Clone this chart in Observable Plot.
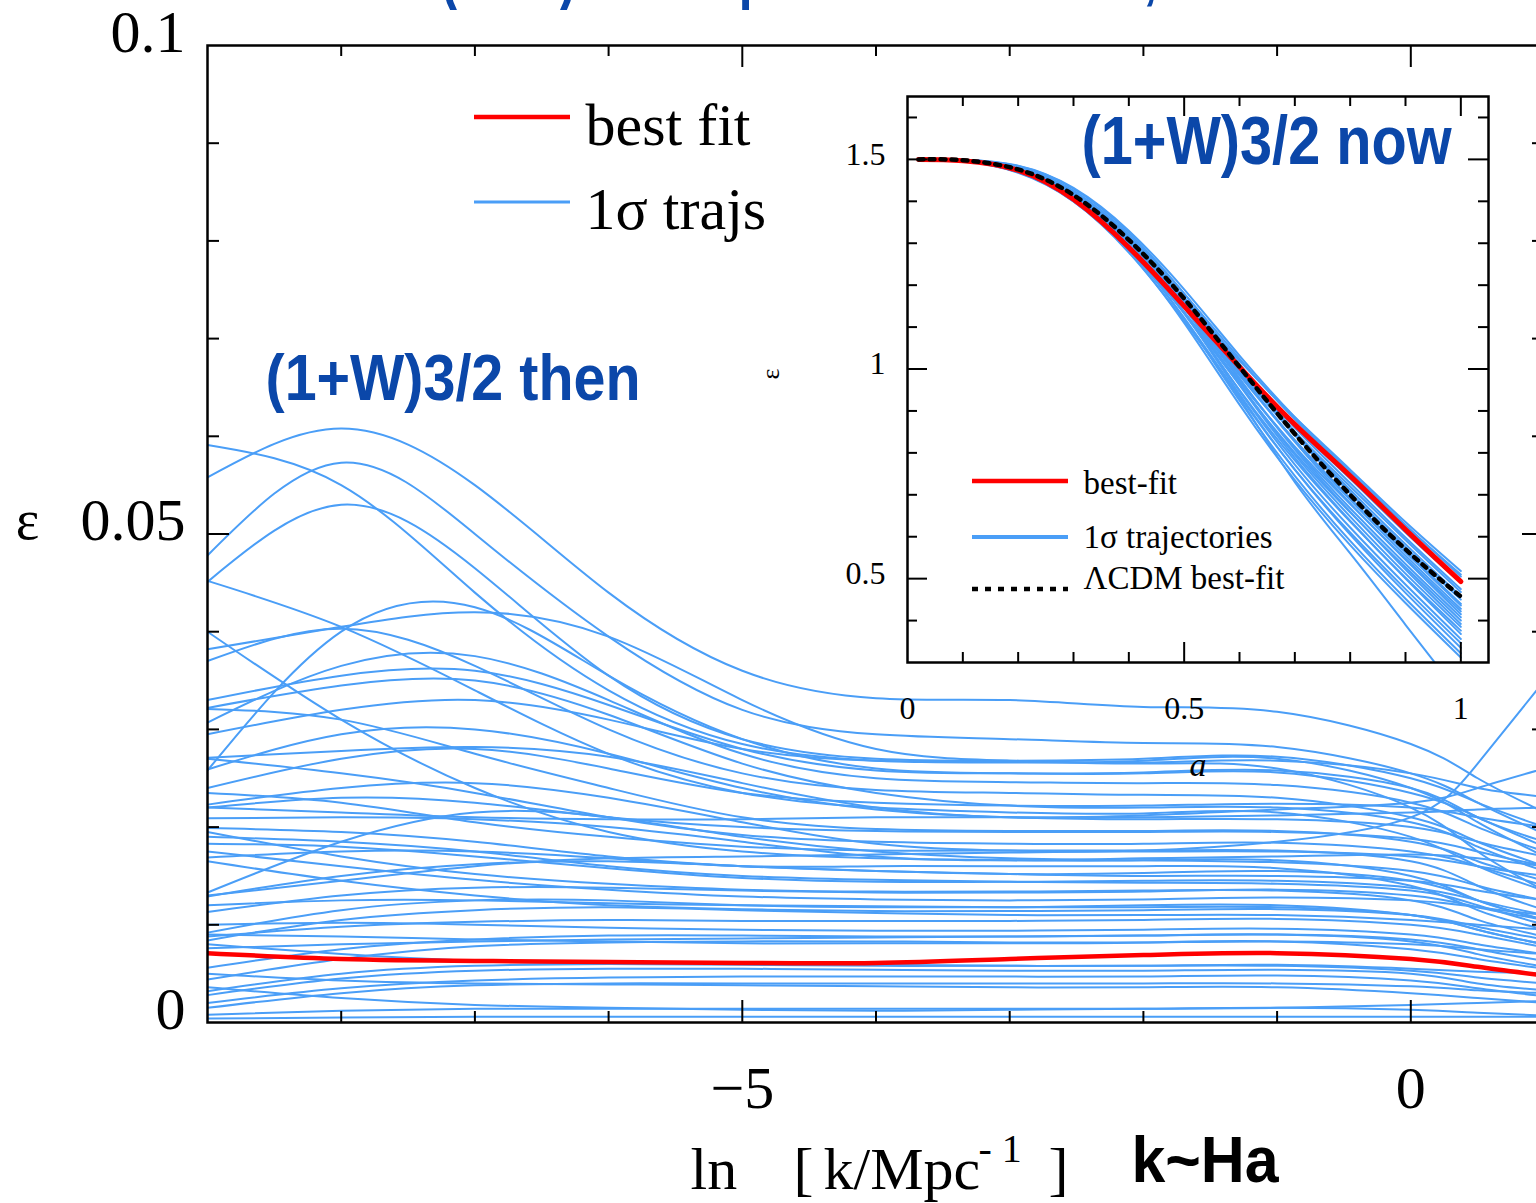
<!DOCTYPE html>
<html><head><meta charset="utf-8">
<script src="https://cdn.jsdelivr.net/npm/d3@7"></script>
<script src="https://cdn.jsdelivr.net/npm/@observablehq/plot@0.6"></script>
<style>
html,body{margin:0;padding:0;background:#fff;overflow:hidden;}
#wrap{position:relative;width:1536px;height:1203px;overflow:hidden;background:#fff;}
#wrap > svg{position:absolute;}
</style></head><body><div id="wrap"></div>
<script>
// ---------- main panel data: epsilon vs ln(k/Mpc^-1) ----------
const lnK = [-9,-8,-7,-6,-5,-4,-3,-2,-1,0,0.5,1];
const trajs = [
[0.0558,0.0608,0.0550,0.0440,0.0360,0.0332,0.0330,0.0323,0.0318,0.0285,0.0250,0.0215],
[0.0591,0.0550,0.0440,0.0340,0.0285,0.0268,0.0266,0.0268,0.0270,0.0240,0.0205,0.0170],
[0.0478,0.0573,0.0500,0.0395,0.0320,0.0295,0.0290,0.0286,0.0282,0.0255,0.0225,0.0193],
[0.0451,0.0530,0.0465,0.0355,0.0290,0.0270,0.0268,0.0270,0.0272,0.0250,0.0225,0.0200],
[0.0452,0.0405,0.0340,0.0275,0.0235,0.0220,0.0215,0.0214,0.0215,0.0190,0.0160,0.0135],
[0.0400,0.0310,0.0240,0.0195,0.0175,0.0168,0.0166,0.0166,0.0166,0.0150,0.0125,0.0105],
[0.0258,0.0400,0.0425,0.0355,0.0290,0.0260,0.0255,0.0255,0.0256,0.0235,0.0210,0.0180],
[0.0382,0.0405,0.0420,0.0395,0.0330,0.0280,0.0268,0.0266,0.0268,0.0255,0.0240,0.0231],
[0.0370,0.0403,0.0365,0.0300,0.0255,0.0238,0.0235,0.0233,0.0230,0.0210,0.0185,0.0160],
[0.0307,0.0365,0.0375,0.0330,0.0275,0.0250,0.0246,0.0245,0.0243,0.0225,0.0200,0.0175],
[0.0322,0.0345,0.0350,0.0315,0.0265,0.0235,0.0222,0.0220,0.0220,0.0205,0.0180,0.0155],
[0.0321,0.0310,0.0275,0.0240,0.0210,0.0198,0.0196,0.0196,0.0196,0.0185,0.0165,0.0145],
[0.0259,0.0295,0.0300,0.0275,0.0240,0.0218,0.0210,0.0208,0.0208,0.0200,0.0185,0.0170],
[0.0271,0.0278,0.0282,0.0272,0.0245,0.0220,0.0210,0.0210,0.0212,0.0215,0.0218,0.0220],
[0.0235,0.0225,0.0205,0.0190,0.0180,0.0176,0.0176,0.0176,0.0176,0.0165,0.0140,0.0115],
[0.0223,0.0240,0.0245,0.0230,0.0205,0.0183,0.0176,0.0175,0.0175,0.0170,0.0160,0.0150],
[0.0209,0.0210,0.0208,0.0200,0.0185,0.0170,0.0166,0.0168,0.0170,0.0172,0.0168,0.0160],
[0.0199,0.0195,0.0185,0.0170,0.0160,0.0155,0.0152,0.0153,0.0155,0.0145,0.0125,0.0105],
[0.0195,0.0170,0.0152,0.0142,0.0136,0.0134,0.0134,0.0135,0.0135,0.0125,0.0105,0.0088],
[0.0183,0.0180,0.0170,0.0158,0.0148,0.0144,0.0144,0.0145,0.0145,0.0138,0.0125,0.0110],
[0.0175,0.0160,0.0146,0.0136,0.0129,0.0126,0.0125,0.0126,0.0128,0.0125,0.0118,0.0110],
[0.0169,0.0175,0.0175,0.0168,0.0160,0.0160,0.0160,0.0160,0.0158,0.0140,0.0115,0.0095],
[0.0165,0.0145,0.0130,0.0120,0.0116,0.0114,0.0114,0.0115,0.0116,0.0110,0.0098,0.0085],
[0.0133,0.0185,0.0215,0.0210,0.0190,0.0175,0.0168,0.0166,0.0164,0.0155,0.0140,0.0125],
[0.0129,0.0150,0.0162,0.0165,0.0160,0.0155,0.0152,0.0150,0.0150,0.0145,0.0135,0.0125],
[0.0113,0.0130,0.0138,0.0138,0.0135,0.0133,0.0133,0.0134,0.0136,0.0130,0.0118,0.0105],
[0.0092,0.0115,0.0125,0.0125,0.0120,0.0118,0.0118,0.0120,0.0120,0.0110,0.0095,0.0080],
[0.0088,0.0098,0.0103,0.0105,0.0104,0.0104,0.0104,0.0105,0.0106,0.0100,0.0090,0.0077],
[0.0084,0.0105,0.0115,0.0118,0.0115,0.0112,0.0110,0.0110,0.0110,0.0105,0.0100,0.0095],
[0.0076,0.0080,0.0083,0.0085,0.0086,0.0087,0.0088,0.0089,0.0090,0.0085,0.0075,0.0063],
[0.0056,0.0075,0.0085,0.0089,0.0089,0.0088,0.0088,0.0089,0.0090,0.0083,0.0070,0.0057],
[0.0044,0.0065,0.0078,0.0082,0.0083,0.0083,0.0082,0.0082,0.0083,0.0080,0.0075,0.0070],
[0.0032,0.0050,0.0058,0.0060,0.0060,0.0059,0.0058,0.0058,0.0058,0.0053,0.0046,0.0040],
[0.0028,0.0045,0.0053,0.0055,0.0055,0.0054,0.0053,0.0053,0.0054,0.0050,0.0040,0.0033],
[0.0020,0.0035,0.0043,0.0046,0.0047,0.0047,0.0047,0.0047,0.0048,0.0043,0.0035,0.0027],
[0.0050,0.0043,0.0040,0.0039,0.0038,0.0037,0.0036,0.0036,0.0036,0.0030,0.0025,0.0020],
[0.0004,0.0005,0.0006,0.0006,0.0006,0.0006,0.0006,0.0006,0.0006,0.0006,0.0006,0.0006],
[0.0036,0.0025,0.0018,0.0015,0.0013,0.0012,0.0013,0.0014,0.0015,0.0013,0.0010,0.0007],
[0.0130,0.0145,0.0160,0.0168,0.0170,0.0172,0.0174,0.0176,0.0185,0.0210,0.0265,0.0350],
[0.0220,0.0215,0.0210,0.0208,0.0208,0.0210,0.0210,0.0212,0.0218,0.0225,0.0240,0.0260],
[0.0295,0.0320,0.0330,0.0310,0.0280,0.0268,0.0267,0.0265,0.0260,0.0220,0.0175,0.0135],
[0.0330,0.0355,0.0360,0.0325,0.0280,0.0258,0.0255,0.0256,0.0258,0.0240,0.0210,0.0185],
[0.0270,0.0255,0.0235,0.0210,0.0192,0.0185,0.0183,0.0183,0.0184,0.0175,0.0160,0.0140],
[0.0190,0.0185,0.0175,0.0160,0.0150,0.0146,0.0144,0.0143,0.0142,0.0135,0.0120,0.0100],
[0.0120,0.0125,0.0125,0.0122,0.0120,0.0119,0.0118,0.0118,0.0118,0.0110,0.0095,0.0080],
[0.0100,0.0102,0.0100,0.0097,0.0095,0.0094,0.0094,0.0095,0.0096,0.0090,0.0080,0.0070],
[0.0090,0.0088,0.0085,0.0083,0.0081,0.0081,0.0081,0.0082,0.0083,0.0075,0.0065,0.0055],
[0.0080,0.0070,0.0063,0.0060,0.0059,0.0058,0.0058,0.0058,0.0059,0.0055,0.0052,0.0050],
[0.0015,0.0030,0.0038,0.0040,0.0040,0.0040,0.0040,0.0040,0.0040,0.0037,0.0033,0.0030],
[0.0008,0.0012,0.0014,0.0014,0.0014,0.0014,0.0014,0.0014,0.0015,0.0018,0.0020,0.0022],
[0.0220,0.0230,0.0225,0.0210,0.0200,0.0196,0.0195,0.0195,0.0195,0.0188,0.0175,0.0160],
[0.0240,0.0270,0.0280,0.0260,0.0235,0.0225,0.0222,0.0222,0.0224,0.0220,0.0210,0.0200]
];
const bestFit = [0.0071,0.0065,0.0063,0.0062,0.0061,0.0061,0.0065,0.0069,0.0071,0.0065,0.0057,0.0048];

const yLabelValues = [0, 0.05, 0.1];
const yLabelTexts = ["0", "0.05", "0.1"];
const yMinorTicks = [0.01,0.02,0.03,0.04,0.06,0.07,0.08,0.09];
const yMajorTicks = [0.05];
const xLabelValues = [-5, 0];
const xLabelTexts = ["\u22125", "0"];
const xMinorTicks = [-8,-7,-6,-4,-3,-2,-1];
const xMajorTicks = [-5, 0];
const mainLegend = ["best fit", "1\u03c3 trajs"];

// ---------- inset data: epsilon vs a ----------
const aNodes = [0.02,0.1,0.2,0.3,0.4,0.5,0.6,0.7,0.8,0.9,1.0];
const insetTrajs = [
[1.500,1.498,1.478,1.418,1.310,1.170,1.020,0.885,0.760,0.635,0.518],
[1.500,1.499,1.482,1.425,1.320,1.180,1.025,0.880,0.752,0.627,0.510],
[1.500,1.497,1.475,1.412,1.300,1.160,1.008,0.865,0.738,0.610,0.490],
[1.500,1.498,1.479,1.420,1.312,1.168,1.010,0.860,0.728,0.598,0.475],
[1.500,1.496,1.470,1.405,1.292,1.150,0.995,0.850,0.720,0.592,0.468],
[1.500,1.498,1.480,1.422,1.315,1.170,1.005,0.850,0.712,0.582,0.458],
[1.500,1.497,1.474,1.410,1.300,1.155,0.995,0.842,0.705,0.575,0.450],
[1.500,1.499,1.484,1.430,1.325,1.180,1.012,0.850,0.705,0.568,0.440],
[1.500,1.497,1.472,1.406,1.295,1.148,0.985,0.830,0.692,0.562,0.436],
[1.500,1.498,1.478,1.418,1.308,1.160,0.990,0.830,0.688,0.555,0.428],
[1.500,1.496,1.468,1.400,1.285,1.135,0.970,0.815,0.678,0.548,0.422],
[1.500,1.498,1.481,1.425,1.318,1.168,0.992,0.826,0.680,0.545,0.415],
[1.500,1.497,1.475,1.412,1.300,1.148,0.975,0.812,0.668,0.535,0.408],
[1.500,1.496,1.470,1.402,1.288,1.135,0.962,0.800,0.658,0.527,0.400],
[1.500,1.498,1.480,1.422,1.312,1.158,0.978,0.808,0.660,0.522,0.392],
[1.500,1.497,1.476,1.414,1.302,1.145,0.965,0.795,0.648,0.512,0.385],
[1.500,1.496,1.471,1.405,1.290,1.132,0.950,0.782,0.636,0.502,0.376],
[1.500,1.498,1.479,1.420,1.308,1.148,0.962,0.788,0.638,0.500,0.368],
[1.500,1.497,1.474,1.410,1.295,1.135,0.948,0.772,0.622,0.486,0.356],
[1.500,1.496,1.470,1.402,1.285,1.122,0.935,0.760,0.610,0.475,0.346],
[1.500,1.498,1.477,1.415,1.300,1.135,0.940,0.760,0.605,0.466,0.335],
[1.500,1.497,1.473,1.406,1.288,1.120,0.925,0.745,0.590,0.452,0.322],
[1.500,1.496,1.469,1.400,1.280,1.110,0.915,0.735,0.580,0.442,0.312],
[1.500,1.497,1.472,1.400,1.278,1.115,0.930,0.730,0.560,0.390,0.220],
[1.500,1.499,1.485,1.432,1.330,1.190,1.032,0.885,0.755,0.628,0.505]
];
const insetBest = [1.500,1.497,1.474,1.405,1.290,1.150,1.005,0.868,0.745,0.617,0.493];
const insetLCDM = [1.500,1.498,1.476,1.415,1.308,1.168,1.005,0.845,0.700,0.570,0.457];
const insetXLabelValues = [0, 0.5, 1];
const insetXLabelTexts = ["0", "0.5", "1"];
const insetYLabelValues = [0.5, 1, 1.5];
const insetYLabelTexts = ["0.5", "1", "1.5"];
const insetXMinor = [0.1,0.2,0.3,0.4,0.6,0.7,0.8,0.9];
const insetXMajor = [0.5, 1.0];
const insetYMinor = [0.4,0.6,0.7,0.8,0.9,1.1,1.2,1.3,1.4,1.6];
const insetYMajor = [0.5, 1.0, 1.5];
const insetLegend = ["best-fit", "1\u03c3 trajectories", "\u039bCDM best-fit"];

// ---------- styling ----------
const BLUE = "#4a9ef7", RED = "#ff0000", NAVY = "#0b47a9";
const SERIF = "'Liberation Serif','Times New Roman',Times,serif";
const NARROW = "'Liberation Sans Narrow','Arial Narrow','Liberation Sans',Arial,sans-serif";
const SANS = "'Liberation Sans',Arial,Helvetica,sans-serif";

const W = 1536, H = 1203, ML = 207, MT = 45, MB = 181, MR = -8;
const FW = W - MR - ML, FH = H - MT - MB;

const mainRows = trajs.flatMap((s, i) => s.map((v, j) => ({x: lnK[j], y: v, id: i})));
const bestRows = bestFit.map((v, j) => ({x: lnK[j], y: v}));

const tk = {stroke: "black", strokeWidth: 2};
const axT = {frameAnchor: "bottom-left", textAnchor: "start", lineAnchor: "bottom", fill: "black"};
const main = Plot.plot({
  width: W, height: H, marginLeft: ML, marginTop: MT, marginBottom: MB, marginRight: MR,
  style: {fontFamily: SERIF, background: "white", overflow: "hidden"},
  x: {domain: [-9, 1], axis: null},
  y: {domain: [0, 0.1], axis: null},
  marks: [
    Plot.line(mainRows, {x: "x", y: "y", z: "id", stroke: BLUE, strokeWidth: 2, curve: "natural", clip: true}),
    Plot.line(bestRows, {x: "x", y: "y", stroke: RED, strokeWidth: 4.5, curve: "natural", clip: true}),
    Plot.frame({stroke: "black", strokeWidth: 2.5}),
    Plot.tickY(yMinorTicks, {...tk, insetRight: FW - 12}),
    Plot.tickY(yMinorTicks, {...tk, insetLeft: FW - 12}),
    Plot.tickY(yMajorTicks, {...tk, insetRight: FW - 22}),
    Plot.tickY(yMajorTicks, {...tk, insetLeft: FW - 22}),
    Plot.tickX(xMinorTicks, {...tk, insetTop: FH - 11}),
    Plot.tickX(xMinorTicks, {...tk, insetBottom: FH - 11}),
    Plot.tickX(xMajorTicks, {...tk, insetTop: FH - 22}),
    Plot.tickX(xMajorTicks, {...tk, insetBottom: FH - 22}),
    Plot.text(yLabelValues, {y: d => d, text: (d, i) => yLabelTexts[i], frameAnchor: "left", textAnchor: "end", dx: -22, dy: -13, fontSize: 60, fill: "black"}),
    Plot.text(["\u03b5"], {y: () => 0.05, frameAnchor: "left", textAnchor: "middle", dx: -180, dy: -13, fontSize: 56, fill: "black"}),
    Plot.text(xLabelValues, {x: d => d, text: (d, i) => xLabelTexts[i], frameAnchor: "bottom", lineAnchor: "middle", dy: 66, fontSize: 60, fill: "black"}),
    // x-axis title pieces
    Plot.text(["ln"], {...axT, dx: 690 - ML, dy: 166, fontSize: 60}),
    Plot.text(["["], {...axT, dx: 793 - ML, dy: 166, fontSize: 60}),
    Plot.text(["k/Mpc"], {...axT, dx: 823 - ML, dy: 166, fontSize: 60}),
    Plot.text(["- 1"], {...axT, dx: 978 - ML, dy: 139, fontSize: 40}),
    Plot.text(["]"], {...axT, dx: 1048 - ML, dy: 166, fontSize: 60}),
    Plot.text(["k~Ha"], {...axT, dx: 1131 - ML, dy: 159, fontSize: 64, fontWeight: "bold", fontFamily: SANS}),
    // blue annotations
    Plot.text(["(1+W)3/2 then"], {frameAnchor: "top-left", textAnchor: "start", lineAnchor: "bottom", dx: 265 - ML, dy: 399 - MT, fontSize: 64, fontWeight: "bold", fontFamily: NARROW, fill: NAVY}),
    Plot.text(["(1+W)3/2 = \u03b5 plot: then vs now, k~Ha"], {frameAnchor: "top-left", textAnchor: "start", lineAnchor: "bottom", dx: 440 - ML, dy: -5 - MT, fontSize: 68, fontWeight: "bold", fontFamily: NARROW, fill: NAVY}),
    // legend texts
    Plot.text([mainLegend[0]], {frameAnchor: "top-left", textAnchor: "start", lineAnchor: "bottom", dx: 585 - ML, dy: 144 - MT, fontSize: 60, fill: "black"}),
    Plot.text([mainLegend[1]], {frameAnchor: "top-left", textAnchor: "start", lineAnchor: "bottom", dx: 585 - ML, dy: 228 - MT, fontSize: 60, fill: "black"})
  ]
});

// legend swatches (main)
const ms = d3.select(main);
ms.append("line").attr("x1", 474).attr("x2", 570).attr("y1", 117).attr("y2", 117).attr("stroke", RED).attr("stroke-width", 4.5);
ms.append("line").attr("x1", 474).attr("x2", 570).attr("y1", 202).attr("y2", 202).attr("stroke", BLUE).attr("stroke-width", 3);

function fitText(svg, str, len) {
  d3.select(svg).selectAll("text").filter(function () { return this.textContent === str; })
    .attr("textLength", len).attr("lengthAdjust", "spacingAndGlyphs");
}
fitText(main, "(1+W)3/2 then", 375);
fitText(main, "k~Ha", 147);
fitText(main, "(1+W)3/2 = \u03b5 plot: then vs now, k~Ha", 850);

// ---------- inset ----------
const IML = 80, IMR = 20, IMT = 20, IMB = 130, IW = 681, IH = 716;
const IFW = IW - IML - IMR, IFH = IH - IMT - IMB;
const insetRows = insetTrajs.flatMap((s, i) => s.map((v, j) => ({a: aNodes[j], e: v, id: i})));
const insetBestRows = insetBest.map((v, j) => ({a: aNodes[j], e: v}));
const insetLRows = insetLCDM.map((v, j) => ({a: aNodes[j], e: v}));
const itk = {stroke: "black", strokeWidth: 2};
const inset = Plot.plot({
  width: IW, height: IH, marginLeft: IML, marginRight: IMR, marginTop: IMT, marginBottom: IMB,
  style: {fontFamily: SERIF, background: "transparent", overflow: "visible"},
  x: {domain: [0, 1.05], axis: null},
  y: {domain: [0.3, 1.65], axis: null},
  marks: [
    Plot.frame({fill: "white", stroke: "none"}),
    Plot.line(insetRows, {x: "a", y: "e", z: "id", stroke: BLUE, strokeWidth: 2, curve: "natural", clip: true}),
    Plot.line(insetBestRows, {x: "a", y: "e", stroke: RED, strokeWidth: 5, curve: "natural", clip: true}),
    Plot.line(insetLRows, {x: "a", y: "e", stroke: "black", strokeWidth: 4.5, strokeDasharray: "5,6", curve: "natural", clip: true}),
    Plot.frame({stroke: "black", strokeWidth: 2.5}),
    Plot.tickX(insetXMinor, {...itk, insetTop: IFH - 10}),
    Plot.tickX(insetXMinor, {...itk, insetBottom: IFH - 10}),
    Plot.tickX(insetXMajor, {...itk, insetTop: IFH - 20}),
    Plot.tickX(insetXMajor, {...itk, insetBottom: IFH - 20}),
    Plot.tickY(insetYMinor, {...itk, insetRight: IFW - 10}),
    Plot.tickY(insetYMinor, {...itk, insetLeft: IFW - 10}),
    Plot.tickY(insetYMajor, {...itk, insetRight: IFW - 20}),
    Plot.tickY(insetYMajor, {...itk, insetLeft: IFW - 20}),
    Plot.text(insetXLabelValues, {x: d => d, text: (d, i) => insetXLabelTexts[i], frameAnchor: "bottom", lineAnchor: "middle", dy: 46, fontSize: 32, fill: "black"}),
    Plot.text(insetYLabelValues, {y: d => d, text: (d, i) => insetYLabelTexts[i], frameAnchor: "left", textAnchor: "end", dx: -22, dy: -5, fontSize: 32, fill: "black"}),
    Plot.text(["a"], {frameAnchor: "bottom", lineAnchor: "middle", dy: 103, fontSize: 34, fontStyle: "italic", fill: "black"}),
    Plot.text(["\u03b5"], {frameAnchor: "left", dx: -137, rotate: -90, fontSize: 26, fill: "black"}),
    Plot.text(["(1+W)3/2 now"], {frameAnchor: "top-left", textAnchor: "start", lineAnchor: "bottom", dx: 1081 - 907, dy: 163 - 96, fontSize: 69, fontWeight: "bold", fontFamily: NARROW, fill: NAVY}),
    Plot.text([insetLegend[0]], {frameAnchor: "top-left", textAnchor: "start", lineAnchor: "middle", dx: 1083 - 907, dy: 483 - 96, fontSize: 33, fill: "black"}),
    Plot.text([insetLegend[1]], {frameAnchor: "top-left", textAnchor: "start", lineAnchor: "middle", dx: 1083 - 907, dy: 537 - 96, fontSize: 33, fill: "black"}),
    Plot.text([insetLegend[2]], {frameAnchor: "top-left", textAnchor: "start", lineAnchor: "middle", dx: 1083 - 907, dy: 578 - 96, fontSize: 33, fill: "black"})
  ]
});
fitText(inset, "(1+W)3/2 now", 370);
const is = d3.select(inset);
const ox = 907 - IML, oy = 96 - IMT;
is.append("line").attr("x1", 972 - ox).attr("x2", 1068 - ox).attr("y1", 481 - oy).attr("y2", 481 - oy).attr("stroke", RED).attr("stroke-width", 4.5);
is.append("line").attr("x1", 972 - ox).attr("x2", 1068 - ox).attr("y1", 537 - oy).attr("y2", 537 - oy).attr("stroke", BLUE).attr("stroke-width", 4);
is.append("line").attr("x1", 972 - ox).attr("x2", 1068 - ox).attr("y1", 589 - oy).attr("y2", 589 - oy).attr("stroke", "black").attr("stroke-width", 4.5).attr("stroke-dasharray", "6,7");

const wrap = document.getElementById("wrap");
main.style.left = "0px"; main.style.top = "0px";
inset.style.left = ox + "px"; inset.style.top = oy + "px";
wrap.appendChild(main);
wrap.appendChild(inset);
</script></body></html>
